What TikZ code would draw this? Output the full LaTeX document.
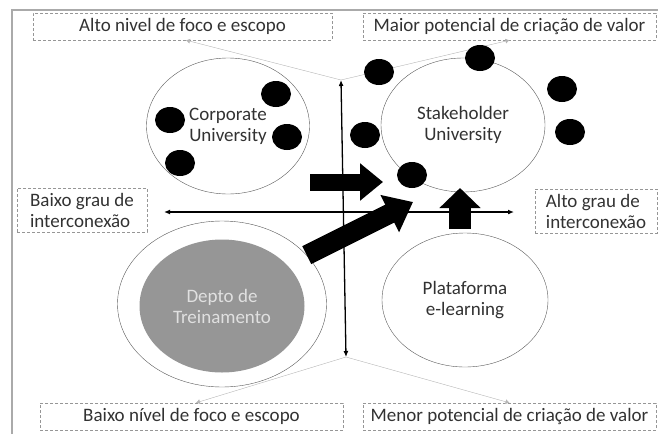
\documentclass[tikz,border=0pt]{standalone}
\usepackage{fontspec}
\setmainfont{Carlito}
\usetikzlibrary{shapes.geometric, arrows.meta, positioning}
\definecolor{Cinza}{RGB}{150,150,150}
\definecolor{Texto}{RGB}{50,50,50}
\definecolor{Moldura}{RGB}{170,170,170}

\begin{document}
\begin{tikzpicture}[x=1pt, y=-1pt,
        rotulo/.style={rectangle, draw=Cinza, densely dashed, text=Texto, font=\fontsize{19}{21}\selectfont, minimum height=27pt, inner sep=1pt},
        lateral/.style={rotulo, align=left, minimum height=44pt, font=\fontsize{19}{21}\selectfont},
        universo/.style={ellipse, draw=black!65, thin, text=Texto, align=center, font=\fontsize{19}{21}\selectfont, inner sep=0pt},
        ponto/.style={ellipse, fill=black, minimum width=30pt, minimum height=26pt, inner sep=0pt},
        eixo/.style={line width=1.3pt, {Latex[length=6pt,width=5pt]}-{Latex[length=6pt,width=5pt]}},
        guia/.style={draw=Cinza!70, thin, -{Latex[length=4pt,width=5pt]}},
        bloco/.style={line width=17pt, -{Triangle[length=23pt,width=36pt]}}
    ]
        \useasboundingbox (0,0) rectangle (658,434);
        % Moldura (bordas superior e esquerda)
        \draw[Moldura, line width=2.5pt] (12,434) -- (12,10) -- (658,10);

        % Caixas de anotacao
        \node[rotulo, minimum width=299pt] (altoFoco) at (182.5,26.5) {Alto nivel de foco e escopo};
        \node[rotulo, minimum width=293pt] (maiorValor) at (509.5,26.5) {Maior potencial de criação de valor};
        \node[rotulo, minimum width=303pt] (baixoFoco) at (191.5,416.5) {Baixo nível de foco e escopo};
        \node[rotulo, minimum width=293pt] (menorValor) at (509.5,416.5) {Menor potencial de criação de valor};
        \node[lateral, minimum width=130pt] (baixoGrau) at (82,210) {Baixo grau de\\interconexão};
        \node[lateral, minimum width=122pt] (altoGrau) at (596,211) {Alto grau de\\interconexão};

        % Eixos
        \coordinate (vTopo) at (341,80);
        \coordinate (vBase) at (346,357);
        \coordinate (hEsq) at (164,212);
        \coordinate (hDir) at (514,212);
        \draw[eixo] (vTopo) -- (vBase);
        \draw[eixo] (hEsq) -- (hDir);

        % Linhas guia ate as caixas
        \draw[guia] (vTopo) -- (altoFoco.south -| 186,0);
        \draw[guia] (vTopo) -- (maiorValor.south);
        \draw[guia] (vBase) -- (baixoFoco.north -| 196,0);
        \draw[guia] (vBase) -- (menorValor.north);

        % Universidades
        \node[universo, minimum width=163pt, minimum height=136pt] (corp) at (228,126) {Corporate\\University};
        \node[universo, minimum width=164pt, minimum height=134pt] (stake) at (463,125) {Stakeholder\\University};
        \node[universo, minimum width=166pt, minimum height=134pt] (elearn) at (465,300) {Plataforma\\e-learning};
        \node[universo, minimum width=209pt, minimum height=166pt] (deptoExt) at (222,304) {};
        \node[ellipse, fill=Cinza, text=white!88!black, align=center, font=\fontsize{19}{21}\selectfont, minimum width=165pt, minimum height=133pt, inner sep=0pt] (depto) at (222,306) {Depto de\\Treinamento};

        % Pontos (stakeholders)
        \node[ponto] (c1) at (276,94) {};
        \node[ponto] (c2) at (170,120) {};
        \node[ponto] (c3) at (287,137) {};
        \node[ponto] (c4) at (180,163) {};
        \node[ponto] (s1) at (379,72) {};
        \node[ponto] (s2) at (480,58) {};
        \node[ponto] (s3) at (562,89) {};
        \node[ponto] (s4) at (570,132) {};
        \node[ponto] (s5) at (365,135) {};
        \node[ponto] (s6) at (412,175) {};

        % Setas de evolucao
        \coordinate (hIni) at (310,182);
        \coordinate (hFim) at (383,182);
        \coordinate (dFim) at (413,202);
        \coordinate (uIni) at (460,229);
        \coordinate (uFim) at (460,188);
        \draw[bloco] (hIni) -- (hFim);
        \draw[bloco, line width=20pt, -{Triangle[length=26pt,width=40pt]}] (deptoExt.30) -- (dFim);
        \draw[bloco, line width=22pt, -{Triangle[length=20pt,width=40pt]}] (uIni) -- (uFim);
    \end{tikzpicture}
\end{document}
